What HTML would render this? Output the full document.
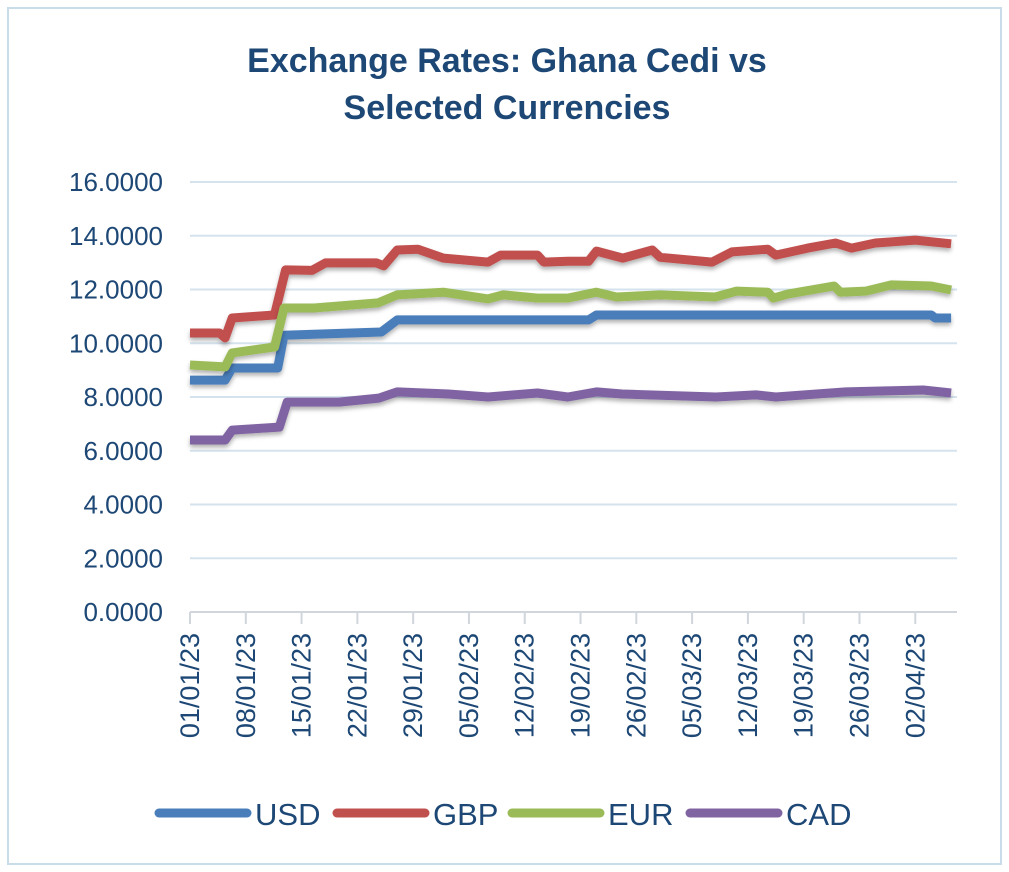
<!DOCTYPE html>
<html><head><meta charset="utf-8"><style>
body{margin:0;background:#fff;}
svg{display:block;font-family:"Liberation Sans",sans-serif;}
</style></head><body>
<svg id="chart" width="1009" height="872">
<rect x="8" y="8" width="993" height="856" fill="#fff" stroke="#c9dcea" stroke-width="2"/>
<text x="507" y="72" text-anchor="middle" font-size="34" font-weight="bold" fill="#1d4775">Exchange Rates: Ghana Cedi vs</text>
<text x="507" y="119" text-anchor="middle" font-size="34" font-weight="bold" fill="#1d4775">Selected Currencies</text>
<defs><filter id="sh" x="-5%" y="-20%" width="110%" height="160%"><feDropShadow dx="0" dy="3" stdDeviation="2" flood-color="#000" flood-opacity="0.3"/></filter></defs>
<g id="grid"></g><g id="axes"></g><g id="series"></g><g id="legend"></g>
</svg>
<script>
const yTicks=[0,2,4,6,8,10,12,14,16];
const xTickLabels=["01/01/23","08/01/23","15/01/23","22/01/23","29/01/23","05/02/23","12/02/23","19/02/23","26/02/23","05/03/23","12/03/23","19/03/23","26/03/23","02/04/23"];
const seriesNames=["USD","GBP","EUR","CAD"];
const usdDays=[0,4.4,5.3,11,11.8,24,26,50,51,93,93.5,95.5];
const usdVals=[8.63,8.63,9.08,9.08,10.3,10.42,10.87,10.87,11.05,11.05,10.94,10.94];
const gbpDays=[0,3.7,4.4,5.3,10.6,12,15.3,17,23.4,24.3,26,28.6,31.8,37.4,39,43.6,44.4,47.4,50,51,54.3,58,59,65.5,68,72.5,73.5,77.5,81,83,86,91,95.5];
const gbpVals=[10.38,10.38,10.2,10.94,11.05,12.73,12.71,12.99,12.99,12.88,13.47,13.5,13.17,13.02,13.28,13.28,13.02,13.05,13.05,13.43,13.17,13.47,13.2,13.02,13.4,13.5,13.28,13.54,13.73,13.54,13.73,13.84,13.7];
const eurDays=[0,4.4,5.3,10.6,11.8,15.6,23.6,26,31.8,37.4,39.3,43.6,47.4,51,53.5,59,65.9,68.6,72.5,73.2,75,80.8,81.6,84.8,88,93,95.5];
const eurVals=[9.19,9.12,9.64,9.86,11.31,11.31,11.5,11.8,11.9,11.65,11.8,11.68,11.68,11.9,11.72,11.8,11.72,11.94,11.9,11.68,11.83,12.13,11.9,11.94,12.17,12.13,11.98];
const cadDays=[0,4.4,5.3,11.2,12.2,18.7,23.7,26,32.4,37.4,43.6,47.4,51,54.2,66,71,73.5,82.3,92,95.5];
const cadVals=[6.4,6.4,6.77,6.88,7.81,7.81,7.96,8.19,8.11,8.0,8.15,8.0,8.19,8.11,8.0,8.08,8.0,8.19,8.26,8.15];
const seriesDays=[usdDays,gbpDays,eurDays,cadDays];
const seriesVals=[usdVals,gbpVals,eurVals,cadVals];
const colors=["#4a7ebb","#c0504d","#9bbb59","#8064a2"];
const NS="http://www.w3.org/2000/svg";
const x0=190,x1=957,yTop=182,yBot=612;
const xScale=d=>x0+d*7.97;
const yScale=v=>yBot-(v/16)*(yBot-yTop);
function mk(tag,attrs,parent,text){const e=document.createElementNS(NS,tag);for(const k in attrs)e.setAttribute(k,attrs[k]);if(text!==undefined)e.textContent=text;parent.appendChild(e);return e;}
const grid=document.getElementById('grid'),axes=document.getElementById('axes'),ser=document.getElementById('series'),leg=document.getElementById('legend');
yTicks.forEach(v=>{
 const y=yScale(v);
 if(v>0){const l=mk('line',{x1:x0,x2:x1,y1:y,y2:y,stroke:'#d5e3ee','stroke-width':2},grid);
 
 }
 const t=mk('text',{x:163,y:y+9,'text-anchor':'end','font-size':26,fill:'#1d4775'},axes,v.toFixed(4));
 
 
});
const ax=mk('line',{x1:x0,x2:x1,y1:yBot,y2:yBot,stroke:'#d0d6dc','stroke-width':2},axes);


xTickLabels.forEach((s,i)=>{
 const x=xScale(i*7);
 const tk=mk('line',{x1:x,x2:x,y1:yBot,y2:yBot+12,stroke:'#d0d6dc','stroke-width':2},axes);
 
 
 const t=mk('text',{transform:`translate(${x+9},633) rotate(-90)`,'text-anchor':'end','font-size':27,fill:'#1d4775'},axes,s);
 
 
});
seriesNames.forEach((n,i)=>{
 const pts=seriesDays[i].map((d,j)=>xScale(d).toFixed(1)+','+yScale(seriesVals[i][j]).toFixed(1)).join(' ');
 const p=mk('polyline',{points:pts,fill:'none',stroke:colors[i],'stroke-width':9,'stroke-linejoin':'round',filter:'url(#sh)'},ser);
 
 
});
const legX=[155,333,508,686];
seriesNames.forEach((n,i)=>{
 const g=mk('g',{},leg);
 
 
 mk('line',{x1:legX[i]+4,x2:legX[i]+92,y1:813,y2:813,stroke:colors[i],'stroke-width':9,'stroke-linecap':'round'},g);
 mk('text',{x:legX[i]+100,y:825,'font-size':31,fill:'#1d4775'},g,n);
});
</script>
</body></html>
